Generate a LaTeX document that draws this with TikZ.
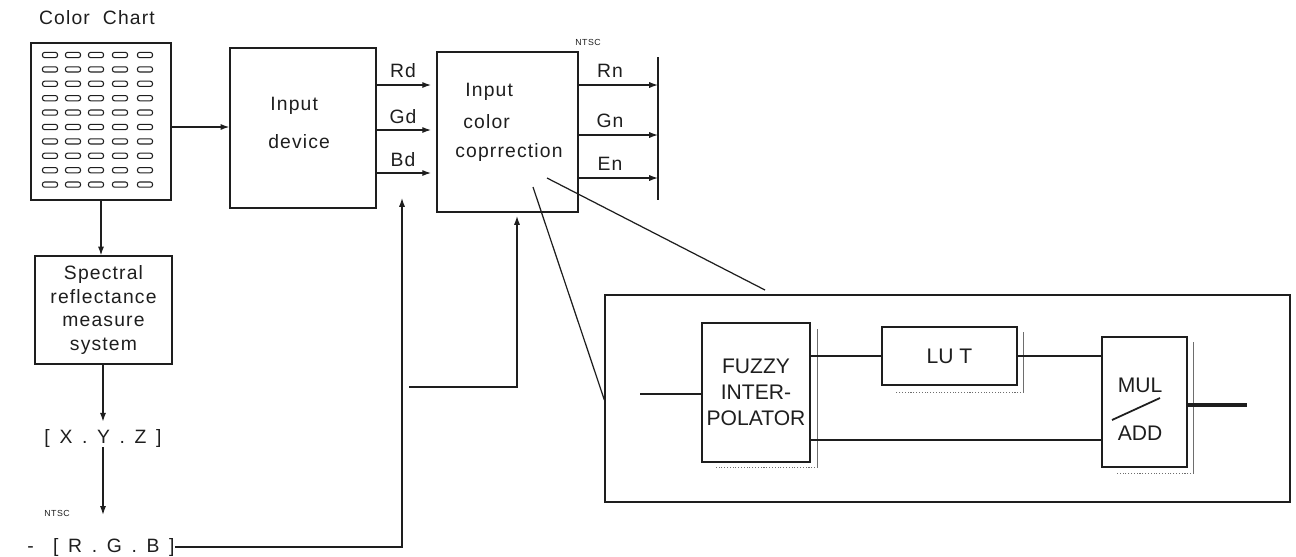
\documentclass[tikz,border=0pt]{standalone}
\usepackage{fontspec}
\setmainfont{Liberation Sans}[LetterSpace=6]
\newfontfamily\blockfont{Liberation Sans}
\usetikzlibrary{arrows.meta,positioning}
\definecolor{InkBlack}{RGB}{30,30,30}
\definecolor{ScanGray}{RGB}{110,110,110}

\tikzset{
  box/.style={draw=InkBlack,line width=0.8pt,inner sep=0pt},
  lbl/.style={inner sep=0pt,text=InkBlack,font=\fontsize{11}{13.6}\selectfont},
  tinylbl/.style={inner sep=0pt,text=InkBlack,font=\fontsize{5}{6}\selectfont},
  blocklbl/.style={inner sep=0pt,text=InkBlack,align=center,font=\blockfont\fontsize{12}{14.7}\selectfont},
  wire/.style={draw=InkBlack,line width=0.7pt},
  arr/.style={wire,-{Latex[length=5pt,width=3.5pt]}},
  fatwire/.style={draw=InkBlack,line width=1.6pt},
  shadow/.style={draw=ScanGray,line width=0.6pt},
  cell/.style={draw=InkBlack,line width=0.6pt,rounded corners=1.2pt}
}

\begin{document}
\begin{tikzpicture}[x=0.02cm,y=-0.02cm]
\useasboundingbox (0,0) rectangle (1296,556);

% color chart
\node[lbl] (title) at (97,18) {Color~~Chart};
\node[box,minimum width=2.80cm,minimum height=3.14cm] (chart) at (101,121.5) {};
\foreach \cx in {50,73,96,120,145}
  \foreach \r in {0,...,9}
    \draw[cell] ({\cx-7.5},{55+\r*14.4-2.6}) rectangle ({\cx+7.5},{55+\r*14.4+2.6});

% input device
\node[box,minimum width=2.92cm,minimum height=3.2cm] (dev) at (303,128) {};
\node[lbl,anchor=west] (devA) at (270,106) {Input};
\node[lbl,anchor=west] (devB) at (268,142) {device};
\draw[arr] (chart.east |- 0,127) -- (dev.west |- 0,127);

% input color correction
\node[box,minimum width=2.82cm,minimum height=3.2cm] (corr) at (507.5,132) {};
\node[lbl,anchor=west] (corrA) at (465,92) {Input};
\node[lbl,anchor=west] (corrB) at (463,122) {color};
\node[lbl,anchor=west] (corrC) at (455,152) {coprrection};

\foreach \yy/\nm/\ly in {85/Rd/71,130/Gd/117,173/Bd/160}{
  \draw[arr] (dev.east |- 0,\yy) -- ([xshift=-3pt]corr.west |- 0,\yy);
  \node[lbl] (in\nm) at (403,\ly) {\nm};
}

% NTSC outputs
\coordinate (barT) at (658,57);
\coordinate (barB) at (658,200);
\draw[wire] (barT) -- (barB);
\node[tinylbl] (ntscA) at (588,42) {NTSC};
\foreach \yy/\nm/\ly in {85/Rn/71,135/Gn/121,178/En/164}{
  \draw[arr] (corr.east |- 0,\yy) -- (barT |- 0,\yy);
  \node[lbl] (out\nm) at (610,\ly) {\nm};
}

% measurement chain
\node[box,align=center,font=\fontsize{11}{13.6}\selectfont,text=InkBlack,
      minimum width=2.74cm,minimum height=2.16cm] (spec) at (103.5,310)
      {Spectral\\reflectance\\measure\\system};
\draw[arr] (chart.south) -- (chart.south |- spec.north);
\node[lbl] (xyz) at (103,438) {[\enspace X\enspace.\enspace Y\enspace.\enspace Z\enspace]};
\draw[arr,shorten >=4pt] (xyz |- spec.south) -- (xyz.north);
\node[tinylbl] (ntscB) at (57,513) {NTSC};
\node[lbl] (rgb) at (101,547) {-\quad[\enspace R\enspace.\enspace G\enspace.\enspace B\enspace]};
\draw[arr,shorten >=13pt] (xyz.south) -- (xyz.south |- rgb.north);

% feedback lines
\coordinate (upT) at (402,198);
\draw[arr] (rgb.east) -- (upT |- rgb.east) -- (upT);
\coordinate (brA) at (409,387);
\coordinate (brB) at (517,216);
\draw[arr] (brA) -- (brB |- brA) -- (brB);

% enlarged view
\node[box,minimum width=13.7cm,minimum height=4.14cm] (zoomb) at (947.5,398.5) {};
\coordinate (zoomA) at (533,187);
\coordinate (zoomB) at (547,178);
\coordinate (zoomC) at (765,290);
\draw[wire] (zoomA) -- (zoomb.west |- 0,400);
\draw[wire] (zoomB) -- (zoomC);

\node[box,line width=1.1pt,minimum width=2.16cm,minimum height=2.78cm,blocklbl] (fuzzy) at (756,392.5) {FUZZY\\INTER-\\POLATOR};
\node[box,line width=1.1pt,minimum width=2.7cm,minimum height=1.16cm,blocklbl] (lut) at (949.5,356) {LU T};
\node[box,line width=1.1pt,minimum width=1.7cm,minimum height=2.6cm] (mul) at (1144.5,402) {};
\node[blocklbl] (mulA) at (1140,385) {MUL};
\node[blocklbl] (mulB) at (1140,433) {ADD};
\draw[wire,line width=1pt] (1112,420) -- (1160,398);

% shadow edges
\draw[shadow] ([xshift=0.14cm,yshift=-0.14cm]fuzzy.north east) -- ([xshift=0.14cm,yshift=-0.1cm]fuzzy.south east);
\draw[shadow,densely dotted] ([xshift=0.14cm,yshift=-0.1cm]fuzzy.south east) -- ([xshift=0.3cm,yshift=-0.1cm]fuzzy.south west);
\draw[shadow] ([xshift=0.12cm,yshift=-0.12cm]lut.north east) -- ([xshift=0.12cm,yshift=-0.14cm]lut.south east);
\draw[shadow,densely dotted] ([xshift=0.12cm,yshift=-0.14cm]lut.south east) -- ([xshift=0.3cm,yshift=-0.14cm]lut.south west);
\draw[shadow] ([xshift=0.12cm,yshift=-0.12cm]mul.north east) -- ([xshift=0.12cm,yshift=-0.12cm]mul.south east);
\draw[shadow,densely dotted] ([xshift=0.12cm,yshift=-0.12cm]mul.south east) -- ([xshift=0.3cm,yshift=-0.12cm]mul.south west);

% signal paths
\coordinate (zin) at (640,394);
\coordinate (zout) at (1247,405);
\draw[fatwire] (zin) -- (fuzzy.west |- zin);
\draw[wire] (fuzzy.east |- lut) -- (lut.west);
\draw[wire] (fuzzy.east |- 0,440) -- (mul.west |- 0,440);
\draw[wire] (lut.east) -- (mul.west |- lut.east);
\draw[fatwire,line width=2.5pt] (mul.east |- zout) -- (zout);
\end{tikzpicture}
\end{document}
